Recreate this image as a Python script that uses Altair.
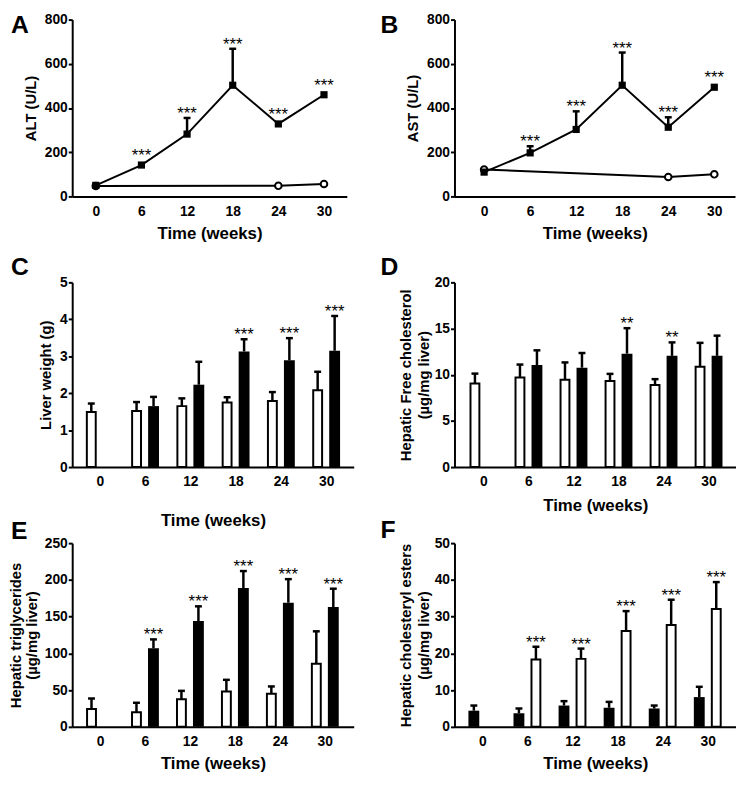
import altair as alt
import pandas as pd

weeks = [0, 6, 12, 18, 24, 30]
ctrl_weeks = [0, 24, 30]

# A: ALT (U/L)
alt_ctrl = [47, 48, 56]
alt_treat = [50, 142, 282, 503, 328, 460]
alt_treat_sem = [0, 0, 73, 165, 0, 0]
alt_stars = ["", "***", "***", "***", "***", "***"]

# B: AST (U/L)
ast_ctrl = [122, 88, 100]
ast_treat = [110, 197, 303, 503, 313, 494]
ast_treat_sem = [0, 30, 82, 148, 45, 0]
ast_stars = ["", "***", "***", "***", "***", "***"]

# C: Liver weight (g)
lw_first = [1.49, 1.52, 1.65, 1.75, 1.79, 2.08]
lw_first_sem = [0.23, 0.24, 0.21, 0.14, 0.24, 0.50]
lw_second = [None, 1.65, 2.23, 3.13, 2.89, 3.15]
lw_second_sem = [None, 0.25, 0.62, 0.33, 0.60, 0.94]
lw_stars = ["", "", "", "***", "***", "***"]

# D: Hepatic free cholesterol
fc_first = [9.06, 9.7, 9.45, 9.31, 8.88, 10.87]
fc_first_sem = [1.06, 1.4, 1.88, 0.78, 0.64, 2.58]
fc_second = [None, 11.04, 10.76, 12.28, 12.04, 12.04]
fc_second_sem = [None, 1.6, 1.59, 2.76, 1.46, 2.19]
fc_stars = ["", "", "", "**", "**", ""]

# E: Hepatic triglycerides
tg_first = [24.4, 20, 37.7, 48, 45, 86]
tg_first_sem = [14.2, 12.8, 11.3, 16, 10, 44]
tg_second = [None, 107, 144, 189, 169, 163]
tg_second_sem = [None, 12, 20, 23, 32, 25]
tg_stars = ["", "***", "***", "***", "***", "***"]

# F: Hepatic cholesteryl esters
ce_first = [4.4, 3.7, 5.8, 5.2, 5.0, 8.1]
ce_first_sem = [1.4, 1.3, 1.2, 1.6, 0.8, 2.8]
ce_second = [None, 18.35, 18.5, 26.1, 27.7, 32.1]
ce_second_sem = [None, 3.45, 2.8, 5.4, 6.9, 7.3]
ce_stars = ["", "***", "***", "***", "***", "***"]

FONT = "Liberation Sans"
STAR_SIZE = 17


def make_x(xdom, xtp):
    return alt.X("week:Q", scale=alt.Scale(domain=xdom, nice=False, zero=False),
                 axis=alt.Axis(values=weeks, title="Time (weeks)", titlePadding=xtp, format="d"))


def make_y(field, ytitle, ydom, yvals, ytp, lh):
    return alt.Y(field + ":Q", scale=alt.Scale(domain=ydom, nice=False, zero=True),
                 axis=alt.Axis(values=yvals, title=ytitle, titlePadding=ytp, titleLineHeight=lh, format="d"))


def letter_layer(letter, lx, ly):
    return alt.Chart(pd.DataFrame({"t": [letter]})).mark_text(
        font=FONT, fontSize=25, fontWeight="bold", align="left", baseline="alphabetic", color="black"
    ).encode(x=alt.value(lx), y=alt.value(ly), text="t:N")


def line_panel(cvals, tvals, tsem, stars, ytitle, ydom, yvals, width, height, xdom,
               letter, lx, ly, xtp, ytp):
    dc = pd.DataFrame({"week": ctrl_weeks, "value": cvals})
    dt = pd.DataFrame({"week": weeks, "value": tvals, "sem": tsem, "star": stars})
    dt["top"] = dt["value"] + dt["sem"]
    X = make_x(xdom, xtp)
    Yv = make_y("value", ytitle, ydom, yvals, ytp, 16)
    Yt = make_y("top", ytitle, ydom, yvals, ytp, 16)
    base_t = alt.Chart(dt)
    layers = [
        alt.Chart(dc).mark_line(color="black", strokeWidth=2).encode(x=X, y=Yv),
        base_t.mark_line(color="black", strokeWidth=2).encode(x=X, y=Yv),
        base_t.transform_filter("datum.sem > 0").mark_rule(color="black", strokeWidth=2.5).encode(
            x=X, y=Yv, y2=alt.Y2("top:Q")),
        base_t.transform_filter("datum.sem > 0").mark_rule(
            color="black", strokeWidth=2.5, xOffset=-3.5, x2Offset=3.5).encode(
            x=X, x2=alt.X2("week:Q"), y=Yt),
        alt.Chart(dc).mark_point(shape="circle", filled=True, fill="white", stroke="black",
                                 strokeWidth=2, size=45, opacity=1).encode(x=X, y=Yv),
        base_t.mark_point(shape="square", filled=True, color="black", size=53, opacity=1).encode(x=X, y=Yv),
        base_t.transform_filter("datum.star != '' && datum.sem > 0").mark_text(
            text="***", font=FONT, fontSize=STAR_SIZE, color="black", baseline="alphabetic", dy=1).encode(x=X, y=Yt),
        base_t.transform_filter("datum.star != '' && datum.sem == 0").mark_text(
            text="***", font=FONT, fontSize=STAR_SIZE, color="black", baseline="alphabetic", dy=-4).encode(x=X, y=Yt),
        letter_layer(letter, lx, ly),
    ]
    return alt.layer(*layers).properties(width=width, height=height)


def bar_panel(first, first_sem, second, second_sem, stars, first_open, ytitle, ydom, yvals,
              width, height, xdom, letter, lx, ly, xtp, ytp, lh):
    d1 = pd.DataFrame({"week": weeks, "value": first, "sem": first_sem})
    d1["top"] = d1["value"] + d1["sem"]
    d2 = pd.DataFrame({"week": weeks, "value": second, "sem": second_sem, "star": stars}).dropna()
    d2["top"] = d2["value"] + d2["sem"]
    X = make_x(xdom, xtp)
    Yv = make_y("value", ytitle, ydom, yvals, ytp, lh)
    Yt = make_y("top", ytitle, ydom, yvals, ytp, lh)
    off1, off2 = -8.6, 8.6
    open_style = dict(size=9, fill="white", stroke="black", strokeWidth=2)
    fill_style = dict(size=11, fill="black", stroke="black", strokeWidth=0)
    s1 = open_style if first_open else fill_style
    s2 = fill_style if first_open else open_style
    layers = []
    for d, off, st in [(d1, off1, s1), (d2, off2, s2)]:
        c = alt.Chart(d)
        layers.append(c.mark_rule(color="black", strokeWidth=2.5, xOffset=off).encode(
            x=X, y=Yv, y2=alt.Y2("top:Q")))
        layers.append(c.mark_rule(color="black", strokeWidth=2.5, xOffset=off - 3.5,
                                  x2Offset=off + 3.5).encode(x=X, x2=alt.X2("week:Q"), y=Yt))
        layers.append(c.mark_bar(orient="vertical", xOffset=off, **st).encode(x=X, y=Yv))
    layers.append(alt.Chart(d2).transform_filter("datum.star != ''").mark_text(
        font=FONT, fontSize=STAR_SIZE, color="black", baseline="alphabetic", dy=1, xOffset=off2).encode(
        x=X, y=Yt, text="star:N"))
    layers.append(letter_layer(letter, lx, ly))
    return alt.layer(*layers).properties(width=width, height=height)


def spacer(h):
    return alt.Chart(pd.DataFrame({"a": [0]})).mark_point(opacity=0).encode(
        x=alt.X("a:Q", axis=None), y=alt.Y("a:Q", axis=None)).properties(width=10, height=h)


A = line_panel(alt_ctrl, alt_treat, alt_treat_sem, alt_stars, "ALT (U/L)", [0, 800],
               [0, 200, 400, 600, 800], 278, 179, [-3.1, 33], "A", -62, 14, 8, 6)
B = line_panel(ast_ctrl, ast_treat, ast_treat_sem, ast_stars, "AST (U/L)", [0, 800],
               [0, 200, 400, 600, 800], 284, 179, [-3.86, 32.7], "B", -75, 14, 8, 6)
C = bar_panel(lw_first, lw_first_sem, lw_second, lw_second_sem, lw_stars, True,
              "Liver weight (g)", [0, 5], [0, 1, 2, 3, 4, 5], 285, 187, [-3, 33], "C", -62, -7, 24, 6, 16)
D = bar_panel(fc_first, fc_first_sem, fc_second, fc_second_sem, fc_stars, True,
              ["Hepatic Free cholesterol", "(\u00b5g/mg liver)"], [0, 20], [0, 5, 10, 15, 20],
              285, 187, [-3.2, 33], "D", -75, -7, 9, 3, 18)
E = bar_panel(tg_first, tg_first_sem, tg_second, tg_second_sem, tg_stars, True,
              ["Hepatic triglycerides", "(\u00b5g/mg liver)"], [0, 250], [0, 50, 100, 150, 200, 250],
              285, 186, [-3.05, 33.2], "E", -62, -4, 7, 5, 16)
F = bar_panel(ce_first, ce_first_sem, ce_second, ce_second_sem, ce_stars, False,
              ["Hepatic cholesteryl esters", "(\u00b5g/mg liver)"], [0, 50], [0, 10, 20, 30, 40, 50],
              285, 186, [-3.05, 33.1], "F", -75, -5, 7, 3, 18)

chart = alt.concat(
    A, B, spacer(87), spacer(87), C, D, spacer(77), spacer(77), E, F,
    columns=2, spacing={"row": 0, "column": 102}, bounds="flush", align="none",
).properties(padding=0).configure_view(stroke=None).configure_axis(
    domainColor="black", domainWidth=2, tickColor="black", tickWidth=2, tickSize=4,
    labelFont=FONT, labelFontSize=14, labelFontWeight="bold", labelColor="black",
    titleFont=FONT, titleFontWeight="bold", titleColor="black", grid=False,
).configure_axisX(ticks=False, labelPadding=8, titleFontSize=17).configure_axisY(
    labelPadding=1, titleFontSize=15)

chart.save("out.html", embed_options={"renderer": "svg", "actions": False})
